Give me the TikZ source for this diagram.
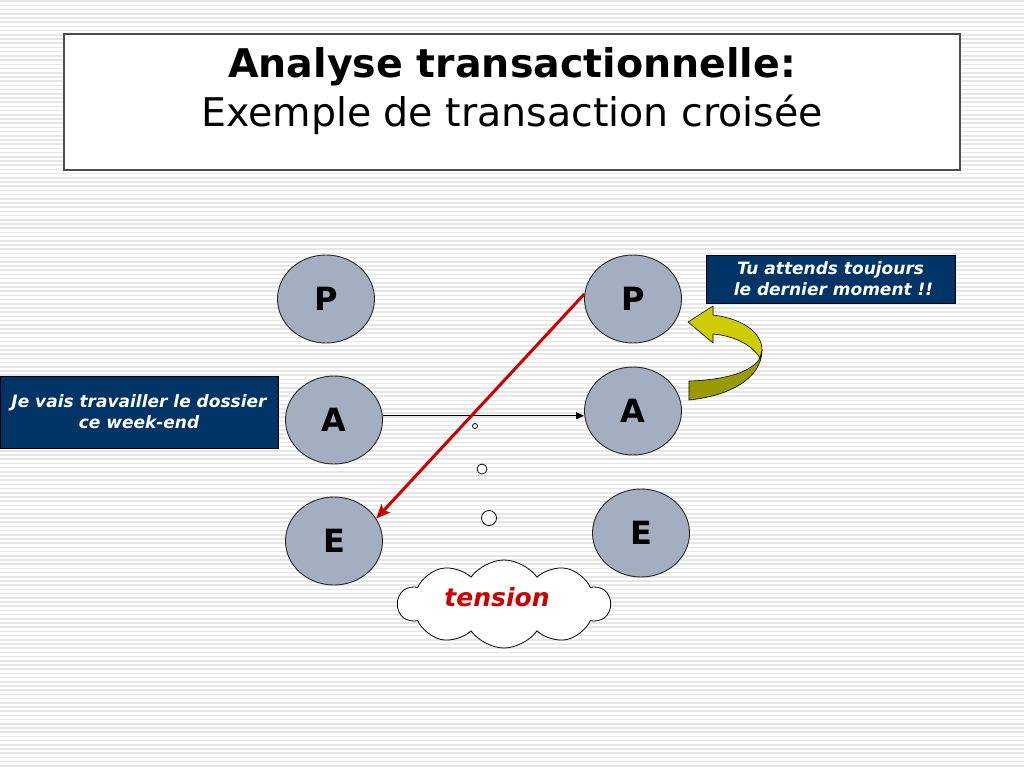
\documentclass[tikz,border=0pt]{standalone}
\usepackage{fontspec}
\setmainfont{DejaVu Sans}
\usetikzlibrary{shapes.geometric,shapes.symbols,arrows.meta}
\definecolor{ellfill}{RGB}{163,175,192}
\definecolor{navy}{RGB}{0,51,102}
\definecolor{redarr}{RGB}{204,0,0}
\definecolor{yel}{RGB}{204,204,0}
\definecolor{yeldark}{RGB}{153,153,0}
\definecolor{stripe}{RGB}{230,230,230}
\begin{document}
\begin{tikzpicture}[x=1pt,y=-1pt,
  ego/.style={ellipse,draw=black!85,line width=0.9pt,fill=ellfill,minimum width=97pt,minimum height=88pt,inner sep=0pt,font=\fontsize{32}{32}\selectfont\bfseries},
  msgbox/.style={rectangle,draw=black,line width=0.8pt,fill=navy,text=white,align=center,inner sep=0pt,font=\fontsize{17}{21}\selectfont\bfseries\itshape},
  titlebox/.style={rectangle,draw=black!70,line width=1.1pt,fill=white,inner sep=0pt},
  bubble/.style={circle,draw=black,line width=0.8pt,fill=white,inner sep=0pt},
  yarrow/.style={draw=black,line width=0.6pt,line join=round}
]
\useasboundingbox (0,0) rectangle (1024,768);
\fill[white] (0,0) rectangle (1024,768);
\foreach \i in {0,...,182} \fill[stripe] (0,\i*4.2+0.5) rectangle (1024,\i*4.2+2.1);

% title
\node[titlebox,minimum width=896pt,minimum height=136pt] (tb) at (512,102) {};
\node[font=\fontsize{39.5}{39.5}\selectfont\bfseries] (t1) at (512,67) {Analyse transactionnelle:};
\node[font=\fontsize{39.5}{39.5}\selectfont] (t2) at (512,115) {Exemple de transaction croisée};

% ego states
\node[ego] (lP) at (326,299) {P};
\node[ego] (lA) at (334,420) {A};
\node[ego] (lE) at (334,541) {E};
\node[ego] (rP) at (633,299) {P};
\node[ego] (rA) at (633,411) {A};
\node[ego] (rE) at (641,533) {E};

% message boxes
\node[msgbox,minimum width=278pt,minimum height=72pt] (m1) at (139,412) {Je vais travailler le dossier\\ce week-end};
\node[msgbox,minimum width=249pt,minimum height=48pt] (m2) at (830.5,279) {Tu attends toujours\\\ le dernier moment !!};

% transactions
\draw[line width=1.3pt,-{Triangle[length=8pt,width=7pt]}] (lA.5) -- (lA.5 -| rA.west);
\draw[redarr,line width=3pt,-{Stealth[length=14pt,width=12pt,inset=3pt]}] (rP.174) -- (lE.28);

% thought bubbles
\node[bubble,minimum size=5pt] (b1) at (475,426) {};
\node[bubble,minimum size=10pt] (b2) at (482,469) {};
\node[bubble,minimum size=15pt] (b3) at (489,518) {};

% cloud
\node[cloud,draw=black,line width=0.8pt,fill=white,cloud puffs=10,cloud puff arc=110,aspect=2.4,minimum width=212pt,minimum height=88pt,inner sep=0pt] (cl) at (504,604) {};
\node[text=redarr,font=\fontsize{25}{25}\selectfont\bfseries\itshape] (tens) at (497,597) {tension};

% yellow curved arrow
\draw[yarrow,fill=yeldark] (762,350) .. controls (762,378) and (730,396) .. (689,400) -- (689,381) .. controls (725,380) and (752,372) .. (760,358) -- cycle;
\draw[yarrow,fill=yel] (688,322) -- (713,306) -- (713,315) .. controls (745,319) and (762,334) .. (762,350) -- (760,358) .. controls (752,345) and (735,336) .. (713,334) -- (713,343) -- cycle;
\end{tikzpicture}
\end{document}
